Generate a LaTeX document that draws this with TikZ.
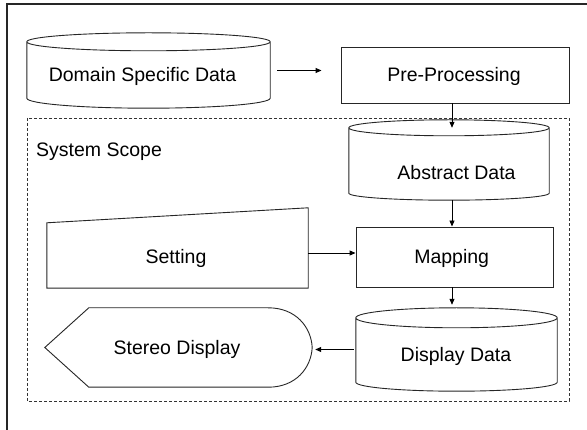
\documentclass[tikz,border=0pt]{standalone}
\usepackage{fontspec}
\setmainfont{Liberation Sans}
\usetikzlibrary{arrows.meta,calc}
\newcommand\cylshape[3]{%
  \draw[shp] let \p1=(#1.north west), \p2=(#1.south east), \n1={(\x2-\x1)/2} in
    (\x1,\y1-#2pt) -- (\x1,\y2+#3pt)
    arc[start angle=180, end angle=360, x radius=\n1, y radius=#3pt]
    -- (\x2,\y1-#2pt)
    arc[start angle=0, end angle=360, x radius=\n1, y radius=#2pt];}
\begin{document}
\begin{tikzpicture}[x=1pt,y=1pt,
  shp/.style={draw=black!85, line width=0.9pt},
  blk/.style={draw=none, inner sep=0pt, minimum width=#1},
  arr/.style={draw=black, line width=0.9pt, -{Triangle[length=6pt,width=5pt]}},
  txt/.style={font=\fontsize{19.5}{23}\selectfont, anchor=base, inner sep=0pt}]
\useasboundingbox (0,0) rectangle (587,-430);
\fill[white] (0,0) rectangle (587,-430);
% outer frame (cut by the page)
\draw[black!85, line width=2pt] (7,-440) -- (7,-4) -- (600,-4);
% system scope
\draw[black!80, line width=0.9pt, dash pattern=on 3pt off 2pt] (27,-118) rectangle (569,-401);
\node[txt, anchor=base west] (scope) at (36,-157) {System Scope};
% nodes
\node[blk=243pt, minimum height=75pt] (dsd) at (148.5,-70.5) {};
\node[blk=228pt, minimum height=56pt, draw=black!85, line width=0.9pt] (pp) at (455,-75) {};
\node[blk=200pt, minimum height=80pt] (abs) at (449,-160) {};
\node[blk=197pt, minimum height=60pt, draw=black!85, line width=0.9pt] (map) at (454.5,-257) {};
\node[blk=261pt, minimum height=80pt] (set) at (177.5,-248) {};
\node[blk=201pt, minimum height=83pt] (dd) at (456.5,-349.5) {};
\node[blk=267pt, minimum height=79pt] (sd) at (178.5,-347.5) {};
% shapes
\cylshape{dsd}{9}{10}
\cylshape{abs}{8}{7}
\cylshape{dd}{10}{9}
\draw[shp] (set.south west) -- ([yshift=-15pt]set.north west) -- (set.north east) -- (set.south east) -- cycle;
\draw[shp] (sd.west) -- ([xshift=44pt]sd.north west) -- ([xshift=-44pt]sd.north east)
  .. controls ([xshift=-16pt]sd.north east) and ([xshift=-1pt,yshift=20pt]sd.east) .. (sd.east)
  .. controls ([xshift=-1pt,yshift=-20pt]sd.east) and ([xshift=-16pt]sd.south east) .. ([xshift=-44pt]sd.south east)
  -- ([xshift=44pt]sd.south west) -- cycle;
% texts
\node[txt] (dsdt) at (142.5,-82) {Domain Specific Data};
\node[txt] (ppt) at (454,-81.5) {Pre-Processing};
\node[txt] (abst) at (456.5,-180) {Abstract Data};
\node[txt] (sett) at (176,-264) {Setting};
\node[txt] (mapt) at (451.7,-264) {Mapping};
\node[txt] (ddt) at (456,-361.5) {Display Data};
\node[txt] (sdt) at (177,-355) {Stereo Display};
% connectors
\coordinate (abstop) at ([yshift=-8pt]abs.north);
\draw[arr, shorten <=7pt, shorten >=19pt] (dsd.east) -- (dsd.east -| pp.west);
\draw[arr] ([xshift=-3pt]pp.south) -- ([xshift=-3pt]pp.south |- abstop);
\draw[arr] ([xshift=3pt]abs.south) -- ([xshift=3pt]abs.south |- map.north);
\draw[arr] ([yshift=-5pt]set.east) -- ([yshift=-5pt]set.east -| map.west);
\draw[arr, shorten >=3pt] ([xshift=-2.5pt]map.south) -- ([xshift=-2.5pt]map.south |- dd.north);
\draw[arr, shorten <=2pt, shorten >=3pt] (dd.west) -- (dd.west -| sd.east);
\end{tikzpicture}
\end{document}
